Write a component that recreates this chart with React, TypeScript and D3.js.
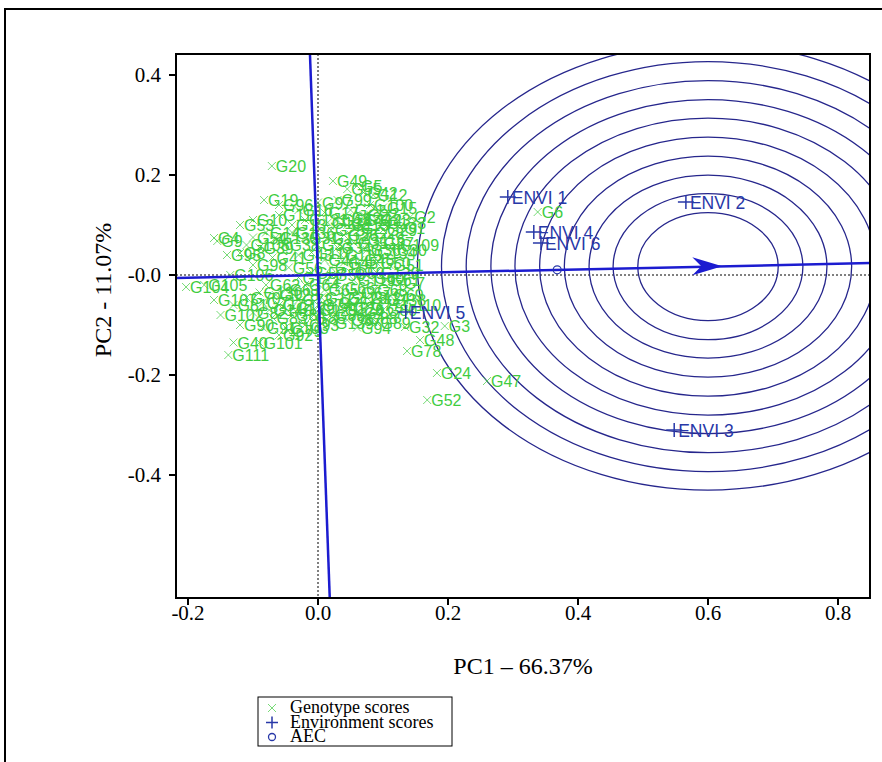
import React from "react";
import * as d3 from "d3";

// genotype scores [label, PC1, PC2]
const genotypes: [string, number, number][] = [
  ["G1", 0.126, 0.094], ["G2", 0.142, 0.116], ["G3", 0.195, -0.102], ["G4", -0.16, 0.074],
  ["G5", 0.06, 0.178], ["G6", 0.338, 0.126], ["G7", 0.126, -0.016], ["G8", -0.12, 0.044],
  ["G9", -0.155, 0.068], ["G10", -0.1, 0.11], ["G11", -0.06, 0.12], ["G12", 0.085, 0.16],
  ["G13", -0.04, 0.1], ["G14", -0.08, 0.085], ["G15", 0.1, 0.135], ["G16", -0.03, 0.13],
  ["G17", 0.01, 0.125], ["G18", 0.03, 0.11], ["G19", -0.083, 0.15], ["G20", -0.071, 0.218],
  ["G21", 0.05, 0.13], ["G22", 0.07, 0.12], ["G23", 0.09, 0.11], ["G24", 0.183, -0.196],
  ["G25", 0.02, 0.09], ["G26", 0.04, 0.08], ["G27", 0.06, 0.095], ["G28", 0.08, 0.085],
  ["G29", 0.1, 0.09], ["G30", 0.115, 0.05], ["G31", -0.02, 0.075], ["G32", 0.134, -0.104],
  ["G33", 0.0, 0.06], ["G34", 0.03, 0.055], ["G35", 0.055, 0.065], ["G36", 0.075, 0.05],
  ["G37", 0.095, 0.065], ["G38", -0.05, 0.06], ["G39", -0.09, 0.055], ["G40", -0.13, -0.135],
  ["G41", -0.07, 0.035], ["G42", 0.07, 0.165], ["G43", -0.03, 0.04], ["G44", 0.01, 0.03],
  ["G45", 0.04, 0.025], ["G46", 0.065, 0.03], ["G47", 0.26, -0.212], ["G48", 0.157, -0.13],
  ["G49", 0.023, 0.188], ["G50", 0.09, 0.025], ["G51", 0.11, 0.02], ["G52", 0.168, -0.25],
  ["G53", -0.12, 0.1], ["G54", -0.1, 0.075], ["G55", 0.045, 0.172], ["G56", -0.045, 0.015],
  ["G57", -0.01, 0.005], ["G58", 0.02, 0.0], ["G59", 0.05, 0.005], ["G60", 0.08, -0.005],
  ["G61", 0.105, -0.01], ["G62", -0.08, -0.02], ["G63", -0.05, -0.03], ["G64", -0.02, -0.02],
  ["G65", 0.01, -0.03], ["G66", 0.035, -0.025], ["G67", 0.06, -0.035], ["G68", 0.085, -0.03],
  ["G69", 0.11, -0.04], ["G70", -0.11, -0.045], ["G71", -0.085, -0.055], ["G72", -0.06, -0.06],
  ["G73", -0.03, -0.05], ["G74", 0.0, -0.06], ["G75", 0.025, -0.055], ["G76", 0.05, -0.065],
  ["G77", 0.075, -0.06], ["G78", 0.137, -0.152], ["G79", -0.046, -0.112], ["G80", 0.1, -0.07],
  ["G81", -0.13, -0.06], ["G82", -0.1, -0.075], ["G83", -0.07, -0.085], ["G84", -0.04, -0.08],
  ["G85", -0.01, -0.085], ["G86", 0.02, -0.08], ["G87", 0.045, -0.09], ["G88", 0.07, -0.085],
  ["G89", 0.09, -0.095], ["G90", -0.12, -0.1], ["G91", -0.085, -0.105], ["G92", -0.06, -0.12],
  ["G93", -0.02, -0.1], ["G94", 0.06, -0.105], ["G95", -0.14, 0.04], ["G96", -0.06, 0.14],
  ["G97", 0.0, 0.145], ["G98", -0.1, 0.02], ["G99", 0.03, 0.15], ["G100", 0.08, 0.14],
  ["G101", -0.09, -0.135], ["G102", -0.15, -0.08], ["G103", -0.05, -0.105], ["G104", -0.203, -0.024],
  ["G105", -0.175, -0.02], ["G106", -0.135, 0.0], ["G107", -0.16, -0.05], ["G108", -0.11, 0.06],
  ["G109", 0.12, 0.06], ["G110", 0.125, -0.06], ["G111", -0.138, -0.16],
  ["G112", 0.015, 0.075], ["G113", 0.045, 0.1], ["G114", 0.065, 0.11], ["G115", 0.035, 0.04],
  ["G116", 0.07, 0.07], ["G117", -0.01, 0.045], ["G118", 0.02, 0.015], ["G119", 0.055, -0.01],
  ["G120", 0.09, 0.005], ["G121", -0.03, -0.005], ["G122", 0.005, -0.045], ["G123", 0.04, -0.045],
  ["G124", 0.075, -0.045], ["G125", -0.005, -0.07], ["G126", 0.035, -0.07], ["G127", 0.065, -0.075],
  ["G128", -0.065, -0.04], ["G129", -0.04, -0.065], ["G130", -0.09, -0.035], ["G131", -0.02, 0.11],
  ["G132", 0.015, 0.105], ["G133", 0.1, 0.105], ["G134", 0.085, 0.045], ["G135", -0.065, 0.075],
  ["G136", -0.04, 0.085], ["G137", 0.045, 0.115], ["G138", 0.1, -0.05], ["G139", 0.02, -0.095],
  ["G140", -0.075, -0.07],
];

// environment scores
const environments: [string, number, number][] = [
  ["ENVI 1", 0.292, 0.156], ["ENVI 2", 0.566, 0.146], ["ENVI 3", 0.548, -0.31],
  ["ENVI 4", 0.332, 0.086], ["ENVI 5", 0.135, -0.074], ["ENVI 6", 0.343, 0.064],
];

const aecSlope = 0.028; // PC2/PC1 of the average environment axis
const avgEnv = 0.368; // PC1 of the average environment marker
const arrowTip = 0.622;
const ideal = 0.6; // PC1 of the circles' centre
const ringRadii = [0.108, 0.146, 0.183, 0.221, 0.259, 0.297, 0.334, 0.372, 0.41, 0.447];

const xTicks = [-0.2, 0.0, 0.2, 0.4, 0.6, 0.8];
const xTickLabels = ["-0.2", "0.0", "0.2", "0.4", "0.6", "0.8"];
const yTicks = [0.4, 0.2, 0.0, -0.2, -0.4];
const yTickLabels = ["0.4", "0.2", "-0.0", "-0.2", "-0.4"];

const legendItems = ["Genotype scores", "Environment scores", "AEC"];

const L = 176, R = 870, T = 54, B = 598;
const x = d3.scaleLinear().domain([(L - 318) / 650, (R - 318) / 650]).range([L, R]);
const y = d3.scaleLinear().domain([(275 - B) / 500, (275 - T) / 500]).range([B, T]);

const green = "#3fcc3f";
const blue = "#1c1cd0";
const ring = "#26268c";
const envBlue = "#2838a8";
const serif = "Liberation Serif, Times New Roman, serif";
const sans = "Liberation Sans, Arial, sans-serif";

export default function App() {
  const [x0, x1] = x.domain();
  const [y0, y1] = y.domain();
  const cx = x(ideal), cy = y(ideal * aecSlope);
  const tx = x(arrowTip), ty = y(arrowTip * aecSlope);

  return (
    <div style={{ position: "absolute", left: 0, top: 0 }}>
      <svg width={882} height={762} style={{ display: "block", background: "#fff" }}>
        <defs>
          <clipPath id="plot">
            <rect x={L} y={T} width={R - L} height={B - T} />
          </clipPath>
        </defs>
        <rect x={5} y={9} width={900} height={800} fill="none" stroke="#000" strokeWidth={2} />

        <g clipPath="url(#plot)">
          {/* dotted origin axes */}
          <line x1={x(0)} x2={x(0)} y1={T} y2={B} stroke="#000" strokeWidth={1} strokeDasharray="2,2" />
          <line x1={L} x2={R} y1={y(0)} y2={y(0)} stroke="#000" strokeWidth={1} strokeDasharray="2,2" />

          {/* concentric circles round the ideal genotype */}
          {ringRadii.map((r, i) => (
            <ellipse key={i} cx={cx} cy={cy} rx={x(r) - x(0)} ry={y(0) - y(r)}
              fill="none" stroke={ring} strokeWidth={1.3} />
          ))}

          {/* genotypes */}
          {genotypes.map(([name, gx, gy]) => {
            const px = x(gx), py = y(gy);
            return (
              <g key={name} fill={green} stroke={green}>
                <path d={`M${px - 4},${py - 4}L${px + 4},${py + 4}M${px - 4},${py + 4}L${px + 4},${py - 4}`} strokeWidth={1} fill="none" opacity={0.7} />
                <text x={px + 4} y={py + 6} stroke="none" fontFamily={sans} fontSize={16}>{name}</text>
              </g>
            );
          })}

          {/* AEC abscissa and ordinate */}
          <line x1={x(x0)} y1={y(x0 * aecSlope)} x2={x(x1)} y2={y(x1 * aecSlope)} stroke={blue} strokeWidth={2.5} />
          <line x1={x(-aecSlope * y1)} y1={y(y1)} x2={x(-aecSlope * y0)} y2={y(y0)} stroke={blue} strokeWidth={2.5} />
          <path d={`M${tx},${ty}L${tx - 30},${ty - 9}L${tx - 21},${ty}L${tx - 30},${ty + 9}Z`} fill={blue} />
          <circle cx={x(avgEnv)} cy={y(avgEnv * aecSlope)} r={4} fill="none" stroke={envBlue} strokeWidth={1.2} />

          {/* environments */}
          {environments.map(([name, ex, ey]) => {
            const px = x(ex), py = y(ey);
            return (
              <g key={name} fill={envBlue} stroke={envBlue}>
                <path d={`M${px - 8},${py}L${px + 8},${py}M${px},${py - 7}L${px},${py + 7}`} strokeWidth={1.5} fill="none" />
                <text x={px + 4} y={py + 6.5} stroke="none" fontFamily={sans} fontSize={17.5}>{name}</text>
              </g>
            );
          })}
        </g>

        {/* frame and ticks */}
        <rect x={L} y={T} width={R - L} height={B - T} fill="none" stroke="#000" strokeWidth={2} />
        {xTicks.map((t, i) => (
          <g key={t} transform={`translate(${x(t)},${B})`}>
            <line y1={0} y2={7} stroke="#000" strokeWidth={2} />
            <text y={22} textAnchor="middle" fontFamily={serif} fontSize={21}>{xTickLabels[i]}</text>
          </g>
        ))}
        {yTicks.map((t, i) => (
          <g key={t} transform={`translate(${L},${y(t)})`}>
            <line x1={0} x2={-7} stroke="#000" strokeWidth={2} />
            <text x={-15} y={7} textAnchor="end" fontFamily={serif} fontSize={21}>{yTickLabels[i]}</text>
          </g>
        ))}
        <text x={523} y={674} textAnchor="middle" fontFamily={serif} fontSize={24}>PC1 – 66.37%</text>
        <text transform="translate(111,290) rotate(-90)" textAnchor="middle" fontFamily={serif} fontSize={24}>PC2 - 11.07%</text>

        {/* legend */}
        <g transform="translate(258,697)">
          <rect width={194} height={49} fill="#fff" stroke="#000" strokeWidth={1} />
          <path d="M10,7L18,15M10,15L18,7" stroke={green} strokeWidth={1} opacity={0.7} />
          <path d="M8,25.5H20M14,19.5V31.5" stroke={envBlue} strokeWidth={1.5} />
          <circle cx={14} cy={40} r={3.5} fill="none" stroke={envBlue} strokeWidth={1.3} />
          {legendItems.map((t, i) => (
            <text key={t} x={32} y={16 + i * 14.5} fontFamily={serif} fontSize={18}>{t}</text>
          ))}
        </g>
      </svg>
    </div>
  );
}
